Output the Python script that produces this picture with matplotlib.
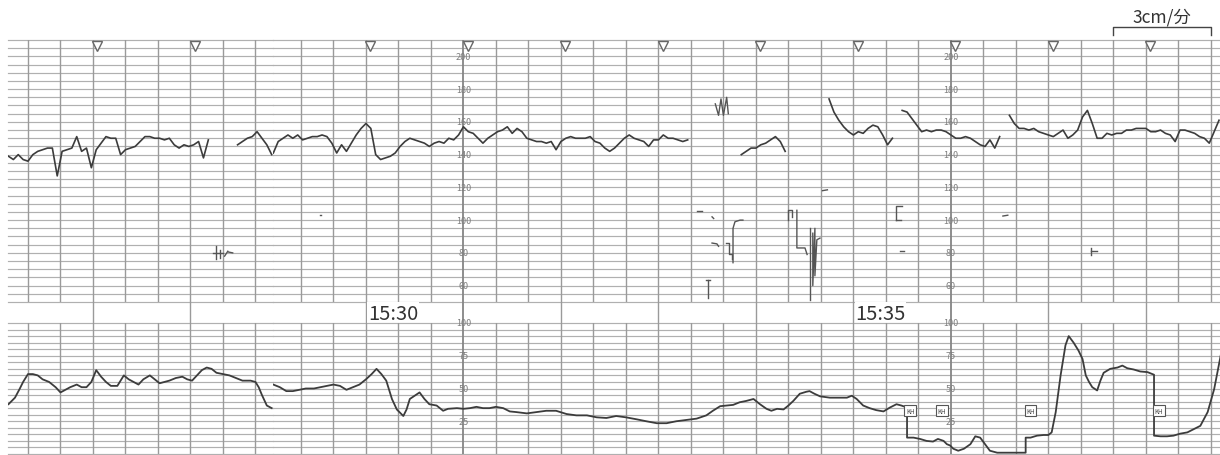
import matplotlib
matplotlib.use('Agg')
import matplotlib.pyplot as plt
import matplotlib.transforms as mtransforms
import numpy as np

plt.rcParams['font.family'] = ['Noto Sans CJK JP', 'DejaVu Sans']

nan = np.nan

# ==============================================================================
# Data (time in seconds relative to 15:30)

# fetal heart rate [bpm], one sample every 3 s
fhr_step = 3
fhr_left_start = -292
fhr_left = [139, 137, 140, 137, 136, 140, 142, 143, 144, 144,
            127, 142, 143, 144, 151, 142, 144, 132, 143, 147,
            151, 150, 150, 140, 143, 144, 145, 148, 151, 151,
            150, 150, 149, 150, 146, 144, 146, 145, 146, 148,
            138, 149, nan, nan, nan, nan, nan, 146, 148, 150,
            151, 154, 150, 146, 140]
fhr_right_start = -57
fhr_right = [141, 148, 150, 152, 150, 152, 149, 150, 151, 151,
             152, 151, 147, 141, 146, 142, 147, 152, 156, 159,
             156, 140, 137, 138, 139, 141, 145, 148, 150, 149,
             148, 147, 145, 147, 148, 147, 150, 149, 152, 157,
             154, 153, 150, 147, 150, 152, 154, 155, 157, 153,
             156, 154, 150, 149, 148, 148, 147, 148, 143, 148,
             150, 151, 150, 150, 150, 151, 148, 147, 144, 142,
             144, 147, 150, 152, 150, 149, 148, 145, 149, 149,
             152, 150, 150, 149, 148, 149, nan, nan, nan, nan,
             nan, nan, nan, nan, nan, nan, 140, 142, 144, 144,
             146, 147, 149, 151, 148, 142, nan, nan, nan, nan,
             nan, nan, nan, nan, 174, 166, 161, 157, 154, 152,
             154, 153, 156, 158, 157, 152, 146, 150, nan, 167,
             166, 162, 158, 154, 155, 154, 155, 155, 154, 152,
             150, 150, 151, 150, 148, 146, 145, 149, 144, 151,
             nan, 164, 159, 156, 156, 155, 156, 154, 153, 152,
             151, 153, 155, 150, 152, 155, 163, 167, 159, 150,
             150, 153, 152, 153, 153, 155, 155, 156, 156, 156,
             154, 154, 155, 153, 152, 148, 155, 155, 154, 153,
             151, 150, 147, 154, 161]

# uterine contractions
uc_left_t = [-292, -288, -285, -283, -280, -277, -274, -271, -267, -263,
             -260, -257, -254, -250, -247, -244, -241, -238, -235, -232,
             -229, -225, -221, -218, -215, -212, -209, -205, -202, -199,
             -196, -193, -189, -185, -182, -179, -176, -173, -170, -167,
             -164, -160, -156, -152, -148, -143, -140, -138, -136, -133,
             -130]
uc_left_v = [38, 43, 50, 55, 61, 61, 60, 57, 55, 51,
             47, 49, 51, 53, 51, 51, 55, 64, 59, 55,
             52, 52, 60, 57, 55, 53, 57, 60, 57, 54,
             55, 56, 58, 59, 57, 56, 60, 64, 66, 65,
             62, 61, 60, 58, 56, 56, 55, 51, 45, 37,
             35]
uc_right_t = [-57, -53, -49, -45, -41, -37, -32, -28, -24, -20,
              -16, -12, -8, -4, 0, 3.5, 6.5, 9.5, 12.5, 16,
              19, 23, 25, 27, 30, 33, 36, 39, 43.5, 47.5,
              50.5, 56, 60, 64, 68, 72, 76, 80, 84.5, 88.5,
              92.5, 99, 105, 111, 117, 123.5, 129.5, 136, 142, 148,
              154, 160, 166.5, 172.5, 179, 185, 191, 197.5, 203.5, 209.5,
              213.5, 218, 222, 226, 230, 234, 238.5, 242.5, 246.5, 249.5,
              253, 257, 260, 263, 267, 271, 273, 276, 279.5, 285.5,
              291.5, 296, 299, 302, 306, 310, 314, 318.5, 322.5, 326.5,
              329.5, 333, 333, 337, 341, 345, 349, 352, 355.5, 357.5,
              359.5, 361.5, 364.5, 368, 372, 375, 378, 381, 384, 388.5,
              396.5, 406, 406, 409, 413, 417, 420, 422, 424.5, 427.5,
              430.5, 432.5, 435.5, 438.5, 441, 443, 445, 447, 450, 452,
              454, 458, 462.5, 465.5, 468.5, 472.5, 476.5, 481, 485, 485,
              489, 493, 497, 501, 505.5, 509.5, 513.5, 518, 522, 526]
uc_right_v = [53, 51, 48, 48, 49, 50, 50, 51, 52, 53,
              52, 49, 51, 53, 57, 61, 65, 61, 56, 42,
              34, 29, 34, 42, 44.5, 47, 42, 38, 37, 33,
              34.5, 35, 34.5, 35, 36, 35, 35, 36, 35, 32.5,
              32, 31, 32, 33, 33, 30.5, 29.5, 29.5, 28, 27.5,
              29, 28, 26.5, 25, 23.5, 23.5, 25, 26, 27, 29.5,
              33, 36.5, 37, 37.5, 39.5, 40.5, 42, 38, 34.5, 33,
              34.5, 34, 37, 40.5, 46, 47.5, 48, 46, 44, 43,
              43, 43, 44.5, 42, 37, 35, 33.5, 32.5, 35.5, 38,
              37, 35.5, 12.5, 12.5, 11.5, 10, 9.5, 11.5, 10, 7.5,
              6.5, 4, 2.5, 4, 7.5, 13.5, 12.5, 7.5, 2.5, 1,
              1, 1, 12.5, 12.5, 14, 14.5, 14.5, 16.5, 32, 60,
              83, 90, 85, 79, 72.5, 60, 55, 51, 48.5, 56,
              62, 65, 66, 67.5, 65.5, 64.5, 63, 62.5, 60.5, 14,
              13.5, 13.5, 14, 15.5, 16.5, 19, 21.5, 32, 49.5, 75]

# stray pen marks on the FHR channel, (t, bpm) polylines
marks_left = [[(-164, 84.5), (-164, 76)],
              [(-166, 80), (-160, 80)],
              [(-162, 82), (-162, 77)],
              [(-159, 78), (-157, 81)],
              [(-156.5, 80.5), (-154, 80)]]
marks_right = [[(-28.5, 103), (-27.5, 103)],
               [(215, 171), (217, 164), (218.5, 174), (220, 164),
                (222, 175), (223, 165)],
               [(204, 105.5), (207, 105.5)],
               [(213, 102), (214, 101)],
               [(213, 86), (216, 85.5), (217, 84)],
               [(221.5, 86), (223.4, 86), (223.4, 79.4), (225.2, 79.4),
                (225.2, 76)],
               [(225.9, 74), (225.9, 95), (227.1, 99), (230.2, 100),
                (232, 100)],
               [(209.2, 63.6), (211.7, 63.6)],
               [(210.5, 63.6), (210.5, 52.7)],
               [(259.7, 100), (259.7, 106), (262, 106), (262, 102)],
               [(265.2, 106), (265.2, 83), (270.2, 83), (271.5, 79)],
               [(273.2, 95), (273.2, 51)],
               [(275, 92), (275, 60), (276.3, 95), (276.3, 66),
                (277.5, 88), (279.4, 89)],
               [(281, 118), (284, 118.5)],
               [(326, 100), (326, 108.5), (330, 108.5)],
               [(326, 100), (329, 100)],
               [(392, 102.5), (395, 103)],
               [(328.5, 81), (331, 81)],
               [(446, 83), (446, 79)],
               [(446, 81), (450, 81)]]

# event marker boxes on the UC channel
event_t = [335, 354.5, 409, 488]
event_v = [33, 33, 33, 33]

time_labels = ['15:30', '15:35']
time_label_t = [0, 300]
scale_t = [60, 360]
fhr_scale = [200, 180, 160, 140, 120, 100, 80, 60]
uc_scale = [100, 75, 50, 25]
speed_bar_t = (460, 520)
speed_label = '3cm/分'

# ==============================================================================
W, H = 1220, 456
trace_col = '#3c3c3c'
vcol = '#9a9a9a'
hcol = '#b0b0b0'


def draw_segment(fig, x0, x1, tlim, fhr_t, fhr_v, uc_t, uc_v, marks,
                 labels=True):
    w = (x1 - x0) / W
    ax_f = fig.add_axes([x0 / W, 1 - 303 / H, w, (303 - 41) / H])
    ax_b = fig.add_axes([x0 / W, 1 - 324 / H, w, (324 - 303) / H])
    ax_u = fig.add_axes([x0 / W, 1 - 455 / H, w, (455 - 324) / H])
    for ax in (ax_f, ax_b, ax_u):
        ax.set_xlim(*tlim)
        ax.axis('off')
    ax_f.set_ylim(50, 210)
    ax_b.set_ylim(0, 1)
    ax_u.set_ylim(0, 100)

    # paper grid
    for b in range(50, 211, 5):
        ax_f.axhline(b, color=hcol, lw=0.85, zorder=1, clip_on=False)
    for v in range(0, 101, 5):
        ax_u.axhline(v, color=hcol, lw=0.85, zorder=1, clip_on=False)
    first = np.ceil(tlim[0] / 20) * 20
    for t in np.arange(first, tlim[1], 20):
        strong = t in scale_t
        c = '#858585' if strong else vcol
        lw = 1.3 if strong else 1.0
        ax_f.axvline(t, color=c, lw=lw, zorder=1)
        ax_u.axvline(t, color=c, lw=lw, zorder=1)
        if t % 60 == 0:
            ax_b.axvline(t, color=c, lw=lw, zorder=1)
            ax_f.plot([t + 2.6], [206.2], marker='v', ms=7, mfc='white',
                      mec='#666666', mew=1.0, zorder=4)
        if strong:
            for b in fhr_scale:
                ax_f.text(t, b, str(b), ha='center', va='center',
                          fontsize=6.5, color='#7e7e7e', zorder=3)
            for v in uc_scale:
                ax_u.text(t, v, str(v), ha='center', va='center',
                          fontsize=6.5, color='#7e7e7e', zorder=3,
                          clip_on=False)

    if labels:
        trans = mtransforms.blended_transform_factory(ax_b.transData,
                                                      ax_b.transAxes)
        for t, s in zip(time_label_t, time_labels):
            ax_b.text(t + 1.2, 0.47, s, transform=trans, ha='left',
                      va='center', fontsize=14.5, color='#333333',
                      bbox=dict(fc='white', ec='none', pad=0.4), zorder=5)

    ax_f.plot(fhr_t, fhr_v, color=trace_col, lw=1.2, zorder=3)
    for m in marks:
        mt, mv = zip(*m)
        ax_f.plot(mt, mv, color='#555555', lw=1.0, zorder=3)
    ax_u.plot(uc_t, uc_v, color=trace_col, lw=1.3, zorder=3)
    return ax_f, ax_b, ax_u


def main():
    fig = plt.figure(figsize=(W / 100, H / 100), dpi=100)
    fig.patch.set_facecolor('white')

    t_left = fhr_left_start + fhr_step * np.arange(len(fhr_left))
    t_right = fhr_right_start + fhr_step * np.arange(len(fhr_right))

    draw_segment(fig, 8, 273, (-292.3, -129.2), t_left, fhr_left,
                 uc_left_t, uc_left_v, marks_left, labels=False)
    ax_f, ax_b, ax_u = draw_segment(fig, 273, 1220, (-57.2, 525.6), t_right,
                                    fhr_right, uc_right_t, uc_right_v,
                                    marks_right)

    # event markers
    for t, v in zip(event_t, event_v):
        ax_u.text(t, v, 'KH', ha='center', va='center', fontsize=4.5,
                  color='#444444', zorder=4,
                  bbox=dict(boxstyle='square,pad=0.25', fc='white',
                            ec='#555555', lw=0.8))

    # paper speed bar
    a, b = speed_bar_t
    ax_f.plot([a, a, b, b], [213.3, 218.2, 218.2, 213.3], color='#444444',
              lw=1.0, clip_on=False)
    ax_f.text((a + b) / 2, 224.3, speed_label, ha='center', va='center',
              fontsize=12.5, color='#333333', clip_on=False)

    fig.savefig('out.png', dpi=100, facecolor='white')


if __name__ == '__main__':
    main()
